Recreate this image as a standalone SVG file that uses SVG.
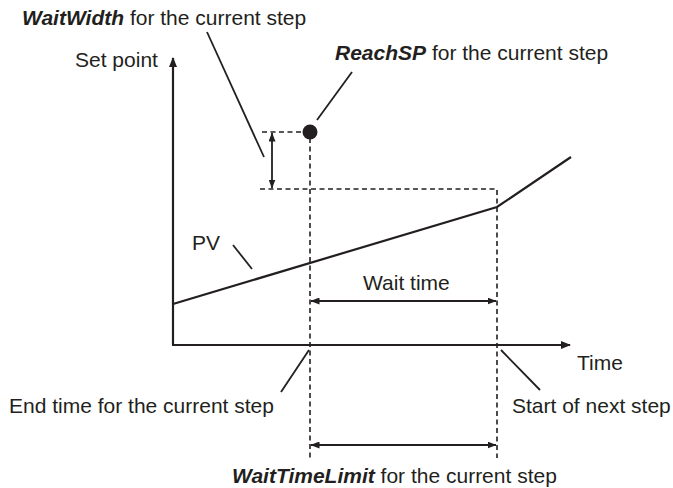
<svg xmlns="http://www.w3.org/2000/svg" width="673" height="488" viewBox="0 0 673 488">
<style>
text{font-family:"Liberation Sans",Arial,Helvetica,sans-serif;font-size:21px;fill:#231f20}
.b{font-weight:bold;font-style:italic}
.ln{stroke:#231f20;stroke-width:1.8;fill:none}
.ax{stroke:#231f20;stroke-width:2.2;fill:none}
.ds{stroke:#231f20;stroke-width:1.6;fill:none;stroke-dasharray:5,3.5}
</style>
<defs>
<marker id="ah" markerWidth="10" markerHeight="8" refX="9" refY="4" orient="auto-start-reverse" markerUnits="userSpaceOnUse">
<path d="M0,0 L10,4 L0,8 Z" fill="#231f20"/>
</marker>
<marker id="sh" markerWidth="9" markerHeight="7" refX="8.5" refY="3.5" orient="auto-start-reverse" markerUnits="userSpaceOnUse">
<path d="M0,0 L9,3.5 L0,7 Z" fill="#231f20"/>
</marker>
</defs>
<g id="axes">
<path class="ax" d="M173,345 L173,58" marker-end="url(#ah)"/>
<path class="ax" d="M172,345 L570,345" marker-end="url(#ah)"/>
</g>
<g id="connectors">
<path class="ds" d="M262,132 L304,132"/>
<path class="ds" d="M260,189 L497,189 L497,458"/>
<path class="ds" d="M310,138 L310,458"/>
<path class="ln" d="M272,133 L272,188" marker-start="url(#sh)" marker-end="url(#sh)"/>
<path class="ln" d="M311,301 L496,301" marker-start="url(#sh)" marker-end="url(#sh)"/>
<path class="ln" d="M311,445 L496,445" marker-start="url(#sh)" marker-end="url(#sh)"/>
<path class="ax" d="M173,304 L497,207 L571,157"/>
<path class="ln" d="M207,32 L264,157"/>
<path class="ln" d="M352,72 L317,120"/>
<path class="ln" d="M233,245 L252,269"/>
<path class="ln" d="M309,350 L281,392"/>
<path class="ln" d="M501,350 L540,390"/>
</g>
<g id="reachsp-dot"><circle cx="310" cy="132" r="7.5" fill="#231f20"/></g>
<g id="labels">
<text x="22" y="25"><tspan class="b">WaitWidth</tspan> for the current step</text>
<text x="75" y="67">Set point</text>
<text x="335" y="60"><tspan class="b">ReachSP</tspan> for the current step</text>
<text x="192" y="250">PV</text>
<text x="363" y="290">Wait time</text>
<text x="577" y="370">Time</text>
<text x="9" y="413">End time for the current step</text>
<text x="512" y="413">Start of next step</text>
<text x="232" y="483"><tspan class="b">WaitTimeLimit</tspan> for the current step</text>
</g>
</svg>
